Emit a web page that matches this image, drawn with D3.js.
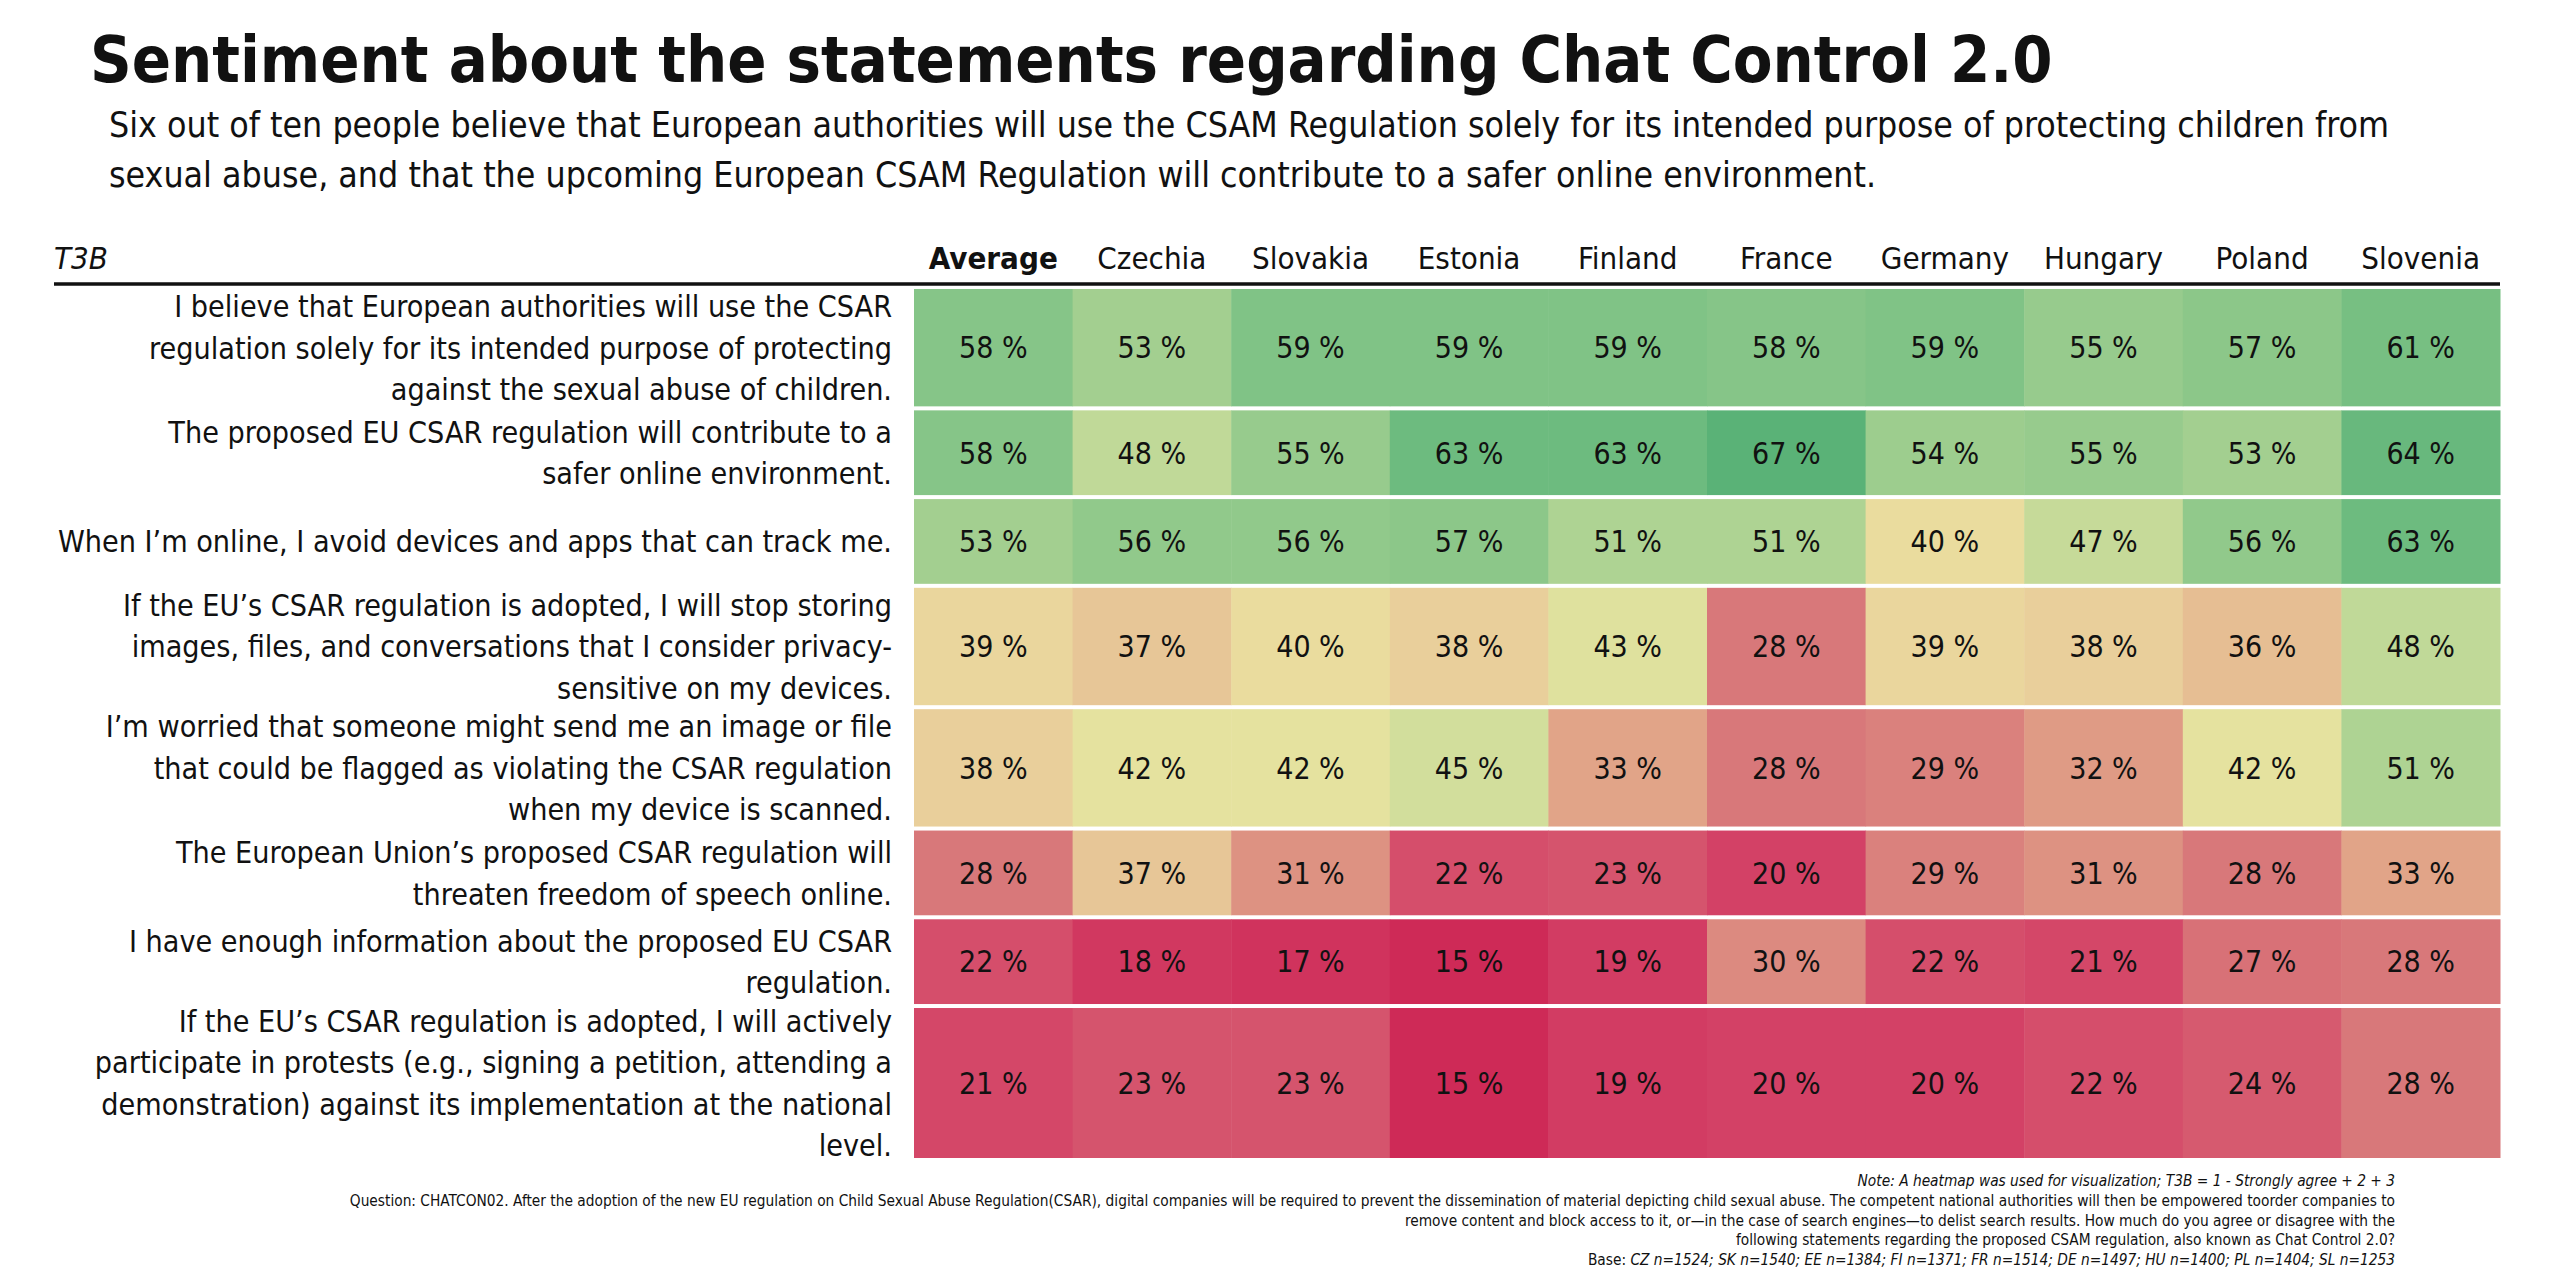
<!DOCTYPE html>
<html>
<head>
<meta charset="utf-8">
<script src="https://cdn.jsdelivr.net/npm/d3@7"></script>
<style>
  body { margin: 0; background: #fff; }
  svg text { font-family: "DejaVu Sans Condensed", "Liberation Sans Narrow", sans-serif; fill: #111; }
</style>
</head>
<body>
<script>
// column headers
let countries = ["Average", "Czechia", "Slovakia", "Estonia", "Finland", "France", "Germany", "Hungary", "Poland", "Slovenia"];

// statements, broken into lines as in the original
let statements = [
  ["I believe that European authorities will use the CSAR", "regulation solely for its intended purpose of protecting", "against the sexual abuse of children."],
  ["The proposed EU CSAR regulation will contribute to a", "safer online environment."],
  ["When I’m online, I avoid devices and apps that can track me."],
  ["If the EU’s CSAR regulation is adopted, I will stop storing", "images, files, and conversations that I consider privacy-", "sensitive on my devices."],
  ["I’m worried that someone might send me an image or file", "that could be flagged as violating the CSAR regulation", "when my device is scanned."],
  ["The European Union’s proposed CSAR regulation will", "threaten freedom of speech online."],
  ["I have enough information about the proposed EU CSAR", "regulation."],
  ["If the EU’s CSAR regulation is adopted, I will actively", "participate in protests (e.g., signing a petition, attending a", "demonstration) against its implementation at the national", "level."]
];

// T3B share (%) per country, one value per statement (same order as above)
let average  = [58, 58, 53, 39, 38, 28, 22, 21];
let czechia  = [53, 48, 56, 37, 42, 37, 18, 23];
let slovakia = [59, 55, 56, 40, 42, 31, 17, 23];
let estonia  = [59, 63, 57, 38, 45, 22, 15, 15];
let finland  = [59, 63, 51, 43, 33, 23, 19, 19];
let france   = [58, 67, 51, 28, 28, 20, 30, 20];
let germany  = [59, 54, 40, 39, 29, 29, 22, 20];
let hungary  = [55, 55, 47, 38, 32, 31, 21, 22];
let poland   = [57, 53, 56, 36, 42, 28, 27, 24];
let slovenia = [61, 64, 63, 48, 51, 33, 28, 28];

let columns = [average, czechia, slovakia, estonia, finland, france, germany, hungary, poland, slovenia];

let title = "Sentiment about the statements regarding Chat Control 2.0";
let subtitle = [
  "Six out of ten people believe that European authorities will use the CSAM Regulation solely for its intended purpose of protecting children from",
  "sexual abuse, and that the upcoming European CSAM Regulation will contribute to a safer online environment."
];
let notes = [
  "Question: CHATCON02. After the adoption of the new EU regulation on Child Sexual Abuse Regulation(CSAR), digital companies will be required to prevent the dissemination of material depicting child sexual abuse. The competent national authorities will then be empowered toorder companies to",
  "remove content and block access to it, or—in the case of search engines—to delist search results. How much do you agree or disagree with the",
  "following statements regarding the proposed CSAM regulation, also known as Chat Control 2.0?"
];
let noteTop = "Note: A heatmap was used for visualization; T3B = 1 - Strongly agree + 2 + 3";
let baseText = "CZ n=1524; SK n=1540; EE n=1384; FI n=1371; FR n=1514; DE n=1497; HU n=1400; PL n=1404; SL n=1253";

// Width and height
let w = 2560;
let h = 1277;

let svg = d3.select("body")
            .append("svg")
            .attr("width", w)
            .attr("height", h);

// ====title, fitted to the width of the original====
let t = svg.append("text")
   .text(title)
   .attr("x", 90)
   .attr("y", 82)
   .attr("font-weight", "bold")
   .attr("font-size", 80);
let tw = t.node().getComputedTextLength();
t.attr("font-size", 80 * 1963 / tw);

svg.selectAll("text.sub")
   .data(subtitle)
   .enter()
   .append("text")
   .attr("class", "sub")
   .text(d => d)
   .attr("x", 109)
   .attr("y", (d, i) => 137 + i * 50)
   .attr("font-size", 35.4);

// ====heatmap====
let gridLeft = 914, gridRight = 2500, gridTop = 289, gridBottom = 1162;

let x = d3.scaleBand()
          .domain(countries)
          .range([gridLeft, gridRight]);

// row heights follow the number of label lines
let units = statements.map(s => Math.max(s.length, 2) + 0.72);
let starts = Array.from(d3.cumsum([0].concat(units)));
let y = d3.scaleLinear()
          .domain([0, d3.sum(units)])
          .range([gridTop, gridBottom]);

let color = d3.scaleLinear()
   .domain([15, 20, 24, 28, 33, 38, 41, 45, 51, 59, 67])
   .range(["#ce2a57", "#d34166", "#d65a6f", "#d8787a", "#e1a488", "#e9cf9b",
           "#ebe3a0", "#d2de9c", "#aed393", "#80c386", "#5ab277"]);

let cells = [];
columns.forEach(function(col, ci) {
  col.forEach(function(v, ri) {
    cells.push({country: countries[ci], row: ri, value: v});
  });
});

let gap = 4;

svg.selectAll("rect.cell")
   .data(cells)
   .enter()
   .append("rect")
   .attr("class", "cell")
   .attr("x", d => x(d.country))
   .attr("y", d => y(starts[d.row]))
   .attr("width", x.bandwidth() + 0.5)
   .attr("height", d => y(starts[d.row + 1]) - y(starts[d.row]) - gap)
   .attr("fill", d => color(d.value));

svg.selectAll("text.val")
   .data(cells)
   .enter()
   .append("text")
   .attr("class", "val")
   .text(d => d.value + " %")
   .attr("x", d => x(d.country) + x.bandwidth() / 2)
   .attr("y", d => (y(starts[d.row]) + y(starts[d.row + 1]) - gap) / 2)
   .attr("dy", "0.36em")
   .attr("text-anchor", "middle")
   .attr("font-size", 30);

// row labels
let lineH = 41.5;
let labels = svg.selectAll("g.label")
   .data(statements)
   .enter()
   .append("g")
   .attr("class", "label")
   .attr("transform", (d, i) => "translate(892," + (y(starts[i]) + y(starts[i + 1]) - gap) / 2 + ")");

labels.selectAll("text")
   .data(d => d.map((line, j) => ({line: line, j: j, n: d.length})))
   .enter()
   .append("text")
   .text(d => d.line)
   .attr("x", 0)
   .attr("y", d => (d.j - (d.n - 1) / 2) * lineH)
   .attr("dy", "0.36em")
   .attr("text-anchor", "end")
   .attr("font-size", 30.2);

// column headers
svg.selectAll("text.head")
   .data(countries)
   .enter()
   .append("text")
   .attr("class", "head")
   .text(d => d)
   .attr("x", d => x(d) + x.bandwidth() / 2)
   .attr("y", 269)
   .attr("text-anchor", "middle")
   .attr("font-size", 31)
   .attr("font-weight", d => d == "Average" ? "bold" : "normal");

svg.append("text")
   .text("T3B")
   .attr("x", 54)
   .attr("y", 269)
   .attr("font-size", 31)
   .attr("font-style", "italic");

svg.append("line")
   .attr("x1", 54)
   .attr("x2", gridRight)
   .attr("y1", 284)
   .attr("y2", 284)
   .attr("stroke", "#111")
   .attr("stroke-width", 3.5);

// ====footnotes====
let fx = 2395;
svg.append("text")
   .text(noteTop)
   .attr("x", fx)
   .attr("y", 1186)
   .attr("text-anchor", "end")
   .attr("font-size", 15.3)
   .attr("font-style", "italic");

svg.selectAll("text.note")
   .data(notes)
   .enter()
   .append("text")
   .attr("class", "note")
   .text(d => d)
   .attr("x", fx)
   .attr("y", (d, i) => 1206 + i * 19.5)
   .attr("text-anchor", "end")
   .attr("font-size", 15.3);

let base = svg.append("text")
   .attr("x", fx)
   .attr("y", 1265)
   .attr("text-anchor", "end")
   .attr("font-size", 15.3);
base.append("tspan").text("Base: ");
base.append("tspan").text(baseText).attr("font-style", "italic");
</script>
</body>
</html>
